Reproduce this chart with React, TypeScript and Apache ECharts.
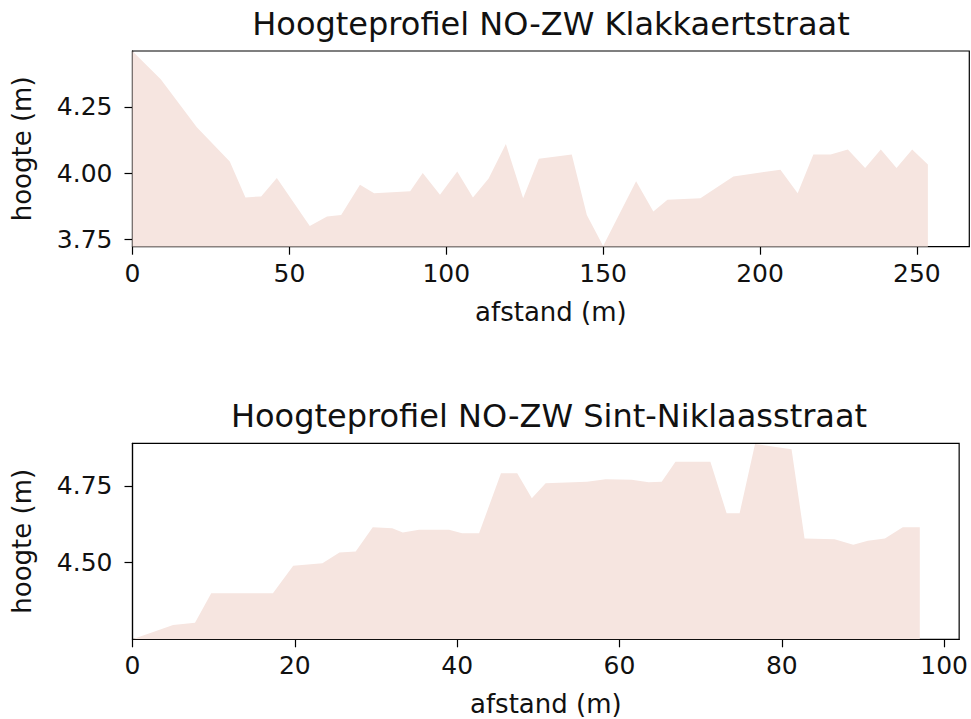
import React, { useEffect, useRef } from "react";
import * as echarts from "echarts";

// Profile 1: Klakkaertstraat
const distTop = [0, 9, 20.5, 31, 36, 41, 46, 56.5, 62, 66.5, 72.5, 77, 88.5, 92.5, 98, 103.5, 108.5, 113.5, 119, 124.5, 129.5, 140, 144.8, 150, 160.5, 166, 170.5, 181, 191.5, 206.5, 212, 217, 222.5, 228, 233.5, 238.5, 243.5, 248.5, 253.5];
const heightTop = [4.46, 4.354, 4.173, 4.044, 3.908, 3.912, 3.981, 3.8, 3.836, 3.842, 3.956, 3.924, 3.931, 4.0, 3.918, 4.006, 3.908, 3.98, 4.11, 3.905, 4.054, 4.07, 3.842, 3.725, 3.969, 3.855, 3.899, 3.905, 3.987, 4.013, 3.924, 4.07, 4.07, 4.089, 4.019, 4.089, 4.019, 4.089, 4.032];

// Profile 2: Sint-Niklaasstraat
const distBottom = [0, 5, 7.7, 9.7, 17.3, 19.8, 23.4, 25.5, 27.5, 29.6, 32, 33.3, 35.3, 39, 40.6, 42.7, 45.4, 47.4, 49.2, 50.9, 56, 58.3, 61.5, 63.6, 65.2, 66.9, 71.2, 73.2, 74.8, 76.7, 81.2, 82.8, 86.5, 88.8, 90.6, 92.7, 94.9, 97];
const heightBottom = [4.25, 4.297, 4.304, 4.4, 4.4, 4.49, 4.498, 4.533, 4.536, 4.615, 4.612, 4.598, 4.607, 4.607, 4.596, 4.596, 4.791, 4.791, 4.71, 4.759, 4.764, 4.772, 4.77, 4.762, 4.764, 4.829, 4.829, 4.661, 4.661, 4.887, 4.87, 4.579, 4.576, 4.558, 4.571, 4.579, 4.615, 4.615];

const xTicksTop = [0, 50, 100, 150, 200, 250];
const yTicksTop = [3.75, 4.0, 4.25];
const xTicksBottom = [0, 20, 40, 60, 80, 100];
const yTicksBottom = [4.5, 4.75];

const titles = ["Hoogteprofiel NO-ZW Klakkaertstraat", "Hoogteprofiel NO-ZW Sint-Niklaasstraat"];
const xName = "afstand (m)";
const yName = "hoogte (m)";

const FONT = "DejaVu Sans";
const FILL = "#f6e5e0";

export default function App() {
  const ref = useRef<HTMLDivElement>(null);
  useEffect(() => {
    if (!ref.current) return;
    const chart = echarts.init(ref.current, undefined, { renderer: "svg" });
    const tickFont = { fontFamily: FONT, fontSize: 25, color: "#111" };
    const xAxisBase = (gridIndex: number, max: number, ticks: number[]) => ({
      type: "value",
      gridIndex,
      min: 0,
      max,
      name: xName,
      nameLocation: "middle",
      nameGap: 52,
      nameTextStyle: { fontFamily: FONT, fontSize: 26, color: "#111" },
      axisLine: { show: true, onZero: false, lineStyle: { color: "#000", width: 1.2 } },
      axisTick: { show: true, inside: false, length: 8, customValues: ticks, lineStyle: { color: "#000", width: 1.2 } },
      axisLabel: { ...tickFont, margin: 14, customValues: ticks, formatter: (v: number) => String(v) },
      splitLine: { show: false },
    });
    const yAxisBase = (gridIndex: number, min: number, max: number, ticks: number[]) => ({
      type: "value",
      gridIndex,
      min,
      max,
      name: yName,
      nameLocation: "middle",
      nameRotate: 90,
      nameGap: 98,
      nameTextStyle: { fontFamily: FONT, fontSize: 26, color: "#111" },
      axisLine: { show: true, onZero: false, lineStyle: { color: "#000", width: 1.2 } },
      axisTick: { show: true, inside: false, length: 8, customValues: ticks, lineStyle: { color: "#000", width: 1.2 } },
      axisLabel: { ...tickFont, margin: 20, customValues: ticks, formatter: (v: number) => v.toFixed(2) },
      splitLine: { show: false },
    });
    chart.setOption({
      animation: false,
      backgroundColor: "#fff",
      title: [
        { text: titles[0], left: 551, top: 8, textAlign: "center", padding: 0, textStyle: { fontFamily: FONT, fontSize: 32, fontWeight: "normal", color: "#111" } },
        { text: titles[1], left: 549, top: 400, textAlign: "center", padding: 0, textStyle: { fontFamily: FONT, fontSize: 32, fontWeight: "normal", color: "#111" } },
      ],
      grid: [
        { left: 132.5, top: 51, width: 836.8, height: 195.7, show: true, borderColor: "#000", borderWidth: 1.2, backgroundColor: "transparent" },
        { left: 132.5, top: 443.3, width: 829.2, height: 196, show: true, borderColor: "#000", borderWidth: 1.2, backgroundColor: "transparent" },
      ],
      xAxis: [xAxisBase(0, 266.7, xTicksTop), xAxisBase(1, 101.85, xTicksBottom)],
      yAxis: [yAxisBase(0, 3.722, 4.461, yTicksTop), yAxisBase(1, 4.25, 4.889, yTicksBottom)],
      series: [
        {
          type: "line",
          xAxisIndex: 0,
          yAxisIndex: 0,
          data: distTop.map((d, i) => [d, heightTop[i]]),
          symbol: "none",
          lineStyle: { width: 0, color: FILL },
          areaStyle: { color: FILL, opacity: 1, origin: "start" },
          z: 1,
        },
        {
          type: "line",
          xAxisIndex: 1,
          yAxisIndex: 1,
          data: distBottom.map((d, i) => [d, heightBottom[i]]),
          symbol: "none",
          lineStyle: { width: 0, color: FILL },
          areaStyle: { color: FILL, opacity: 1, origin: "start" },
          z: 1,
        },
      ],
    });
    return () => chart.dispose();
  }, []);
  return <div ref={ref} style={{ position: "fixed", left: 0, top: 0, width: 971, height: 719 }} />;
}
